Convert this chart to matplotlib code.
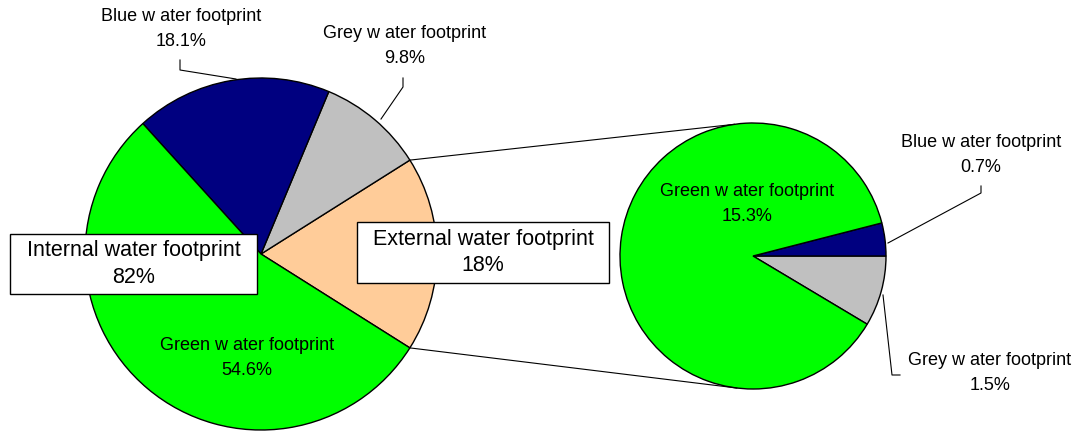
import matplotlib
matplotlib.use("Agg")
import matplotlib.pyplot as plt
from matplotlib.patches import Rectangle
import numpy as np

# ---- data ----
main_labels = ["External water footprint", "Grey w ater footprint", "Blue w ater footprint", "Green w ater footprint"]
main_values = [18.0, 9.8, 18.1, 54.6]
main_colors = ["#FFCC99", "#C0C0C0", "#000080", "#00FF00"]

sub_labels = ["Grey w ater footprint", "Blue w ater footprint", "Green w ater footprint"]
sub_values = [1.5, 0.7, 15.3]
sub_colors = ["#C0C0C0", "#000080", "#00FF00"]

group_labels = ["Internal water footprint", "External water footprint"]
group_values = ["82%", "18%"]

W, H = 1076, 432
fig = plt.figure(figsize=(W / 100, H / 100), dpi=100)
ax = fig.add_axes([0, 0, 1, 1])
FONT = "Liberation Sans"

def Y(y):
    return H - y

# main pie
c1 = (261, Y(254)); r1 = 176
ext_frac = main_values[0] / sum(main_values)
ax.pie(main_values, colors=main_colors, center=c1, radius=r1,
       startangle=-ext_frac * 180, counterclock=True,
       wedgeprops=dict(edgecolor="black", linewidth=1.0))

# sub pie
c2 = (753, Y(256)); r2 = 133
grey_frac = sub_values[0] / sum(sub_values)
ax.pie(sub_values, colors=sub_colors, center=c2, radius=r2,
       startangle=-grey_frac * 360, counterclock=True,
       wedgeprops=dict(edgecolor="black", linewidth=1.0))

ax.set_xlim(0, W)
ax.set_ylim(0, H)
ax.set_aspect("equal")
ax.axis("off")

# connector lines
a = np.deg2rad(ext_frac * 180)
p_top = (c1[0] + r1 * np.cos(a), c1[1] + r1 * np.sin(a))
p_bot = (c1[0] + r1 * np.cos(a), c1[1] - r1 * np.sin(a))
q_top = (c2[0] + r2 * np.cos(np.deg2rad(98)), c2[1] + r2 * np.sin(np.deg2rad(98)))
q_bot = (c2[0] + r2 * np.cos(np.deg2rad(263)), c2[1] + r2 * np.sin(np.deg2rad(263)))
ax.plot([p_top[0], q_top[0]], [p_top[1], q_top[1]], color="black", lw=0.8)
ax.plot([p_bot[0], q_bot[0]], [p_bot[1], q_bot[1]], color="black", lw=0.8)

# leader lines (image coordinates)
leaders = [
    [(180, 60), (180, 70), (236, 79)],
    [(403, 78), (403, 87), (381, 119)],
    [(981, 186), (981, 193), (888, 243)],
    [(883, 295), (892, 375), (900, 375)],
]
for pts in leaders:
    ax.plot([p[0] for p in pts], [Y(p[1]) for p in pts], color="black", lw=0.8)

# slice labels
fs = 13
def lab(x, y, name, val):
    ax.text(x, Y(y), f"{name}\n{val}%", ha="center", va="center",
            fontsize=fs, family=FONT, linespacing=1.55)

lab(181, 29, main_labels[2], main_values[2])
lab(405, 46, main_labels[1], main_values[1])
lab(247, 358, main_labels[3], main_values[3])
lab(747, 204, sub_labels[2], sub_values[2])
lab(981, 155, sub_labels[1], sub_values[1])
lab(990, 373, sub_labels[0], sub_values[0])

# group boxes
boxes = [(10, 234, 257, 294), (357, 222, 609, 283)]
for (x0, y0, x1, y1), name, val in zip(boxes, group_labels, group_values):
    ax.add_patch(Rectangle((x0, Y(y1)), x1 - x0, y1 - y0, facecolor="white",
                           edgecolor="black", lw=1.0, zorder=5))
    ax.text((x0 + x1) / 2, Y((y0 + y1) / 2), f"{name}\n{val}", ha="center",
            va="center", fontsize=15.5, family=FONT, linespacing=1.35, zorder=6)

fig.savefig("out.png", dpi=100)
